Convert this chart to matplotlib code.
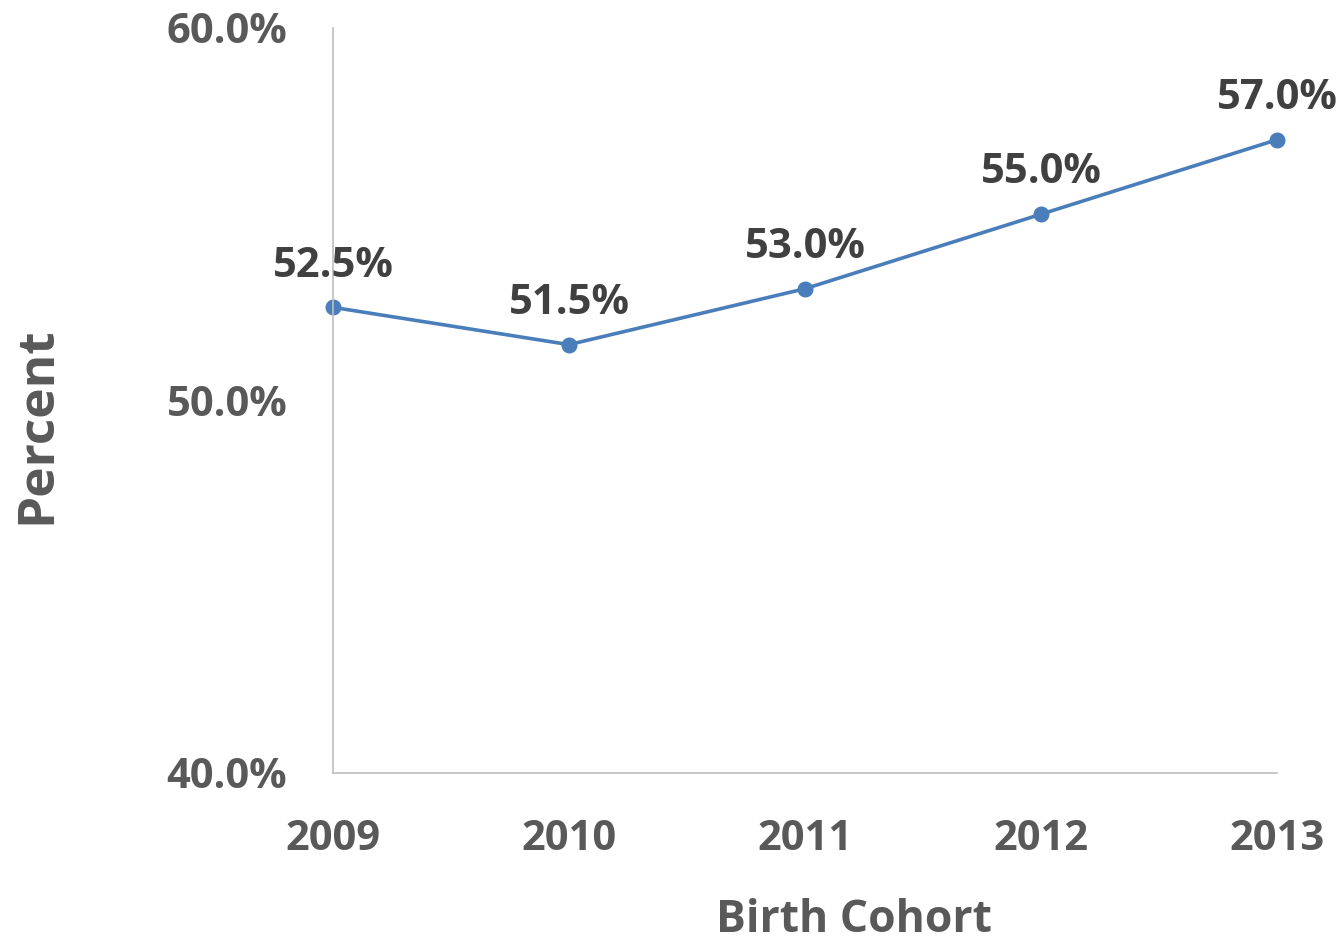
import matplotlib.pyplot as plt
from matplotlib.ticker import FuncFormatter

years = [2009, 2010, 2011, 2012, 2013]
percent = [52.5, 51.5, 53.0, 55.0, 57.0]
yticks = [40, 50, 60]

plt.rcParams['font.family'] = ['Open Sans', 'DejaVu Sans']
plt.rcParams['font.weight'] = 'bold'

fig = plt.figure(figsize=(13.44, 9.49), dpi=100)
ax = fig.add_axes([0.2478, 0.1855, 0.7023, 0.785])

ax.plot(years, percent, color='#4a7ebb', linewidth=2.6, marker='o', markersize=10.5, clip_on=False)

for x, y in zip(years, percent):
    ax.annotate('{:.1f}%'.format(y), xy=(x, y), xytext=(0, 15), textcoords='offset points',
                ha='center', va='bottom', fontsize=30, fontweight='bold', color='#404040')

ax.set_xlim(years[0], years[-1])
ax.set_ylim(40, 60)
ax.set_xticks(years)
ax.set_yticks(yticks)
ax.yaxis.set_major_formatter(FuncFormatter(lambda v, p: '{:.1f}%'.format(v)))
ax.tick_params(length=0, labelsize=30, labelcolor='#595959')
ax.tick_params(axis='y', pad=33)
ax.tick_params(axis='x', pad=33)
for lab in ax.get_xticklabels() + ax.get_yticklabels():
    lab.set_fontweight('bold')

for s in ['top', 'right']:
    ax.spines[s].set_visible(False)
for s in ['left', 'bottom']:
    ax.spines[s].set_color('#bfbfbf')
    ax.spines[s].set_linewidth(1.2)

fig.text(0.0275, 0.552, 'Percent', rotation=90, ha='center', va='center',
         fontsize=37, fontweight='bold', color='#595959')
fig.text(0.635, 0.006, 'Birth Cohort', ha='center', va='bottom',
         fontsize=32, fontweight='bold', color='#595959')

plt.savefig('out.png', dpi=100)
